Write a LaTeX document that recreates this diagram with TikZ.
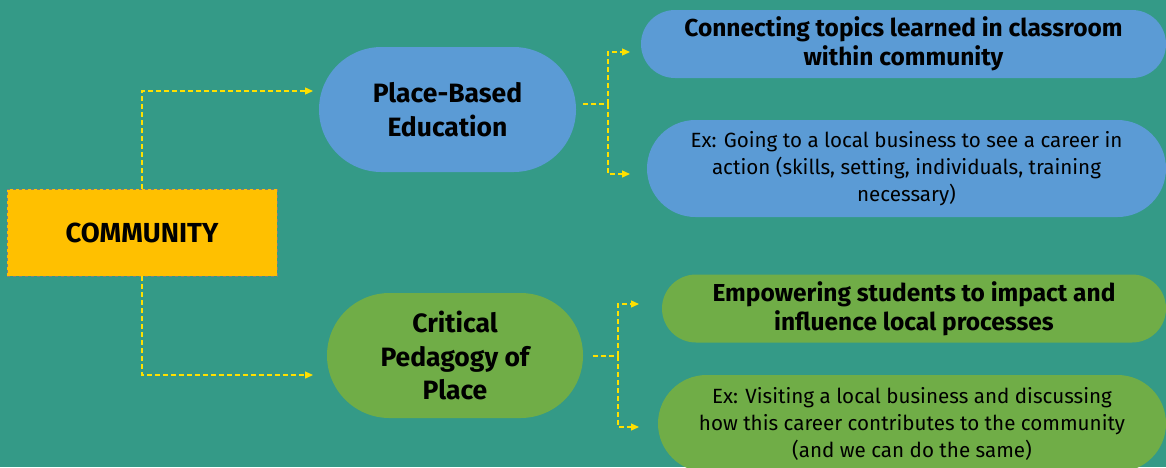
\documentclass[tikz,border=0pt]{standalone}
\usepackage{fontspec}
\setmainfont{Fira Sans}
\usetikzlibrary{arrows.meta}
\definecolor{bgteal}{HTML}{349A87}
\definecolor{boxblue}{HTML}{5B9BD5}
\definecolor{boxgreen}{HTML}{70AD47}
\definecolor{boxgold}{HTML}{FFC000}
\definecolor{lineyellow}{HTML}{FFE000}
\tikzset{
  stadium/.style={inner sep=0pt, align=center, text=black},
  boldtxt/.style={font=\fontsize{24.5}{29}\selectfont\bfseries},
  plaintxt/.style={font=\fontsize{20.6}{27}\selectfont},
  bigtxt/.style={font=\fontsize{26.5}{33.5}\selectfont\bfseries},
  link/.style={draw=lineyellow, line width=1.3pt, dash pattern=on 5pt off 3pt, -{Triangle[length=8pt,width=7pt,fill=lineyellow]}},
}
\begin{document}
\begin{tikzpicture}[x=1pt,y=-1pt]
\fill[bgteal] (0,0) rectangle (1166,467);
\useasboundingbox (0,0) rectangle (1166,467);
% COMMUNITY box
\node[draw=gray, dashed, fill=boxgold, minimum width=270pt, minimum height=87pt, inner sep=0pt, font=\fontsize{27.5}{30}\selectfont\bfseries] (com) at (142,232.5) {COMMUNITY};
% level 1
\node[stadium, bigtxt, fill=boxblue, minimum width=257pt, minimum height=125pt, rounded corners=62.5pt] (pbe) at (447.5,109.5) {Place-Based\\Education};
\node[stadium, bigtxt, fill=boxgreen, minimum width=256pt, minimum height=125pt, rounded corners=62.5pt] (cpp) at (455,355.5) {\raisebox{2pt}{\parbox{200pt}{\centering Critical\\Pedagogy of\\Place}}};
% level 2
\node[stadium, boldtxt, fill=boxblue, minimum width=525pt, minimum height=68pt, rounded corners=34pt] (b1) at (903.5,44) {Connecting topics learned in classroom\\within community};
\node[stadium, plaintxt, fill=boxblue, minimum width=519pt, minimum height=97pt, rounded corners=48.5pt] (b2) at (906.5,168.5) {Ex: Going to a local business to see a career in\\action (skills, setting, individuals, training\\necessary)};
\node[stadium, boldtxt, fill=boxgreen, minimum width=504pt, minimum height=68pt, rounded corners=34pt] (g1) at (914,308.5) {Empowering students to impact and\\influence local processes};
\node[stadium, plaintxt, fill=boxgreen, minimum width=508pt, minimum height=97pt, rounded corners=48.5pt] (g2) at (912,423.5) {Ex: Visiting a local business and discussing\\how this career contributes to the community\\(and we can do the same)};
% connector coordinates
\coordinate (t1) at (313,91);
\coordinate (t2) at (313,375);
\coordinate (s1) at (583,104);
\coordinate (j1) at (608,104);
\coordinate (e1) at (630,52);
\coordinate (e2) at (630,174);
\coordinate (s2) at (593,356);
\coordinate (j2) at (618,356);
\coordinate (e3) at (639,304);
\coordinate (e4) at (639,427);
% connectors
\draw[link] (com.north) |- (t1);
\draw[link] (com.south) |- (t2);
\draw[link, -] (s1) -- (j1);
\draw[link] (j1) |- (e1);
\draw[link] (j1) |- (e2);
\draw[link, -] (s2) -- (j2);
\draw[link] (j2) |- (e3);
\draw[link] (j2) |- (e4);
\end{tikzpicture}
\end{document}
